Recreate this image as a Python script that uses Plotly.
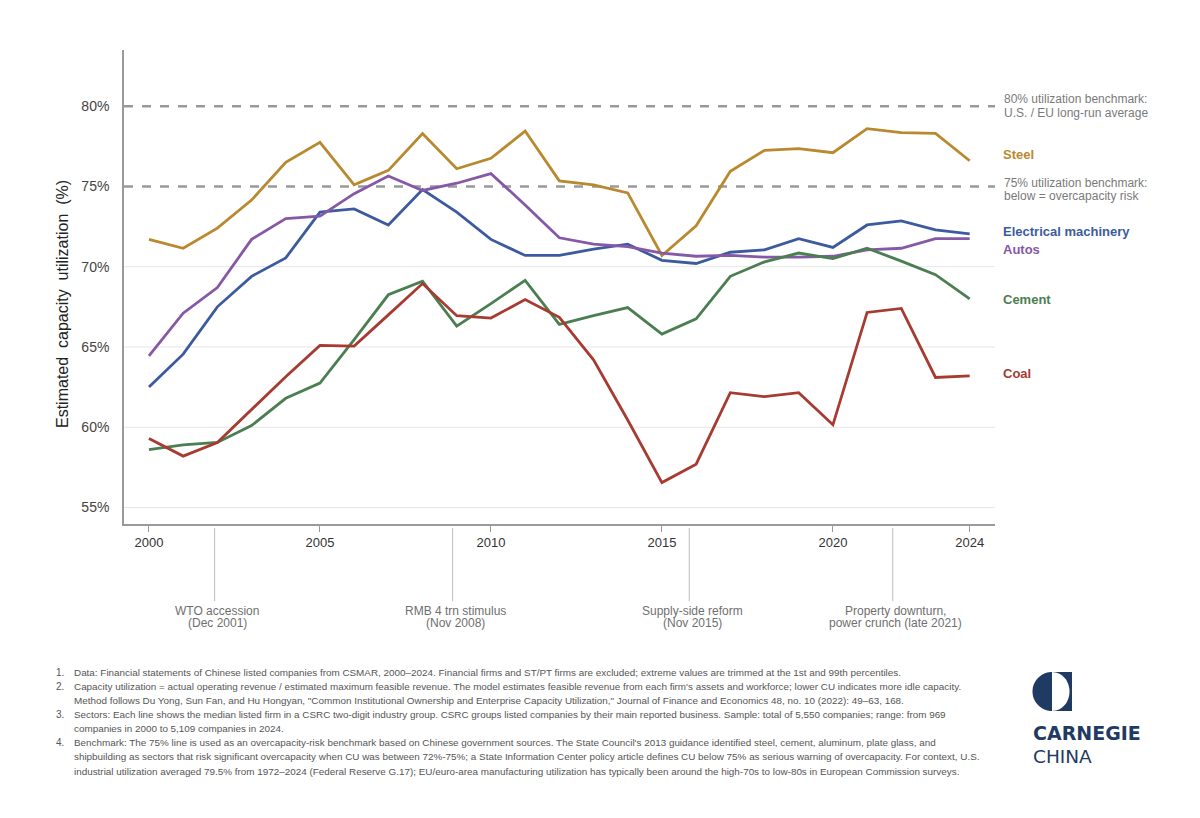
import plotly.graph_objects as go
import numpy as np

# ---------------- data ----------------
years = list(range(2000, 2025))

steel = [71.7, 71.15, 72.4, 74.15, 76.5, 77.75, 75.1, 76.0, 78.3, 76.1, 76.75, 78.45, 75.35, 75.1, 74.6,
         70.7, 72.55, 75.95, 77.25, 77.35, 77.1, 78.6, 78.35, 78.3, 76.6]
elec = [62.5, 64.55, 67.5, 69.4, 70.55, 73.4, 73.6, 72.6, 74.8, 73.4, 71.7, 70.7, 70.7, 71.1, 71.4,
        70.4, 70.2, 70.9, 71.05, 71.75, 71.2, 72.6, 72.85, 72.3, 72.05]
autos = [64.45, 67.1, 68.7, 71.7, 73.0, 73.15, 74.55, 75.65, 74.75, 75.2, 75.8, 73.85, 71.8, 71.4, 71.25,
         70.85, 70.65, 70.7, 70.6, 70.6, 70.65, 71.05, 71.15, 71.75, 71.75]
cement = [58.6, 58.9, 59.05, 60.1, 61.8, 62.75, 65.45, 68.25, 69.1, 66.3, 67.7, 69.15, 66.4, 66.95, 67.45,
          65.8, 66.75, 69.4, 70.3, 70.85, 70.5, 71.15, 70.35, 69.5, 68.0]
coal = [59.3, 58.2, 59.05, 61.1, 63.15, 65.1, 65.05, 67.0, 68.95, 66.95, 66.8, 67.95, 66.85, 64.2, 60.45,
        56.55, 57.7, 62.15, 61.9, 62.15, 60.15, 67.15, 67.4, 63.1, 63.2]

series_names = ["Steel", "Electrical machinery", "Autos", "Cement", "Coal"]
series_vals = [steel, elec, autos, cement, coal]
series_colors = ["#B8892F", "#3C5B9E", "#8659A6", "#4B7E50", "#A63B31"]
label_y_px = [154, 231, 250, 299, 373]

x_tickvals = [2000, 2005, 2010, 2015, 2020, 2024]
y_tickvals = [55, 60, 65, 70, 75, 80]
y_ticktext = ["55%", "60%", "65%", "70%", "75%", "80%"]
grid_vals = [55, 60, 65, 70]

benchmarks = [80, 75]
bench_text = [["80% utilization benchmark:", "U.S. / EU long-run average"],
              ["75% utilization benchmark:", "below = overcapacity risk"]]
bench_text_y = [[99, 112.5], [182.5, 196]]

events_x = [2001.92, 2008.88, 2015.8, 2021.75]
events_text = [["WTO accession", "(Dec 2001)"],
               ["RMB 4 trn stimulus", "(Nov 2008)"],
               ["Supply-side reform", "(Nov 2015)"],
               ["Property downturn,", "power crunch (late 2021)"]]

footnotes = [
    ("1.", ["Data: Financial statements of Chinese listed companies from CSMAR, 2000\u20132024. Financial firms and ST/PT firms are excluded; extreme values are trimmed at the 1st and 99th percentiles."]),
    ("2.", ["Capacity utilization = actual operating revenue / estimated maximum feasible revenue. The model estimates feasible revenue from each firm's assets and workforce; lower CU indicates more idle capacity.",
            "Method follows Du Yong, Sun Fan, and Hu Hongyan, \"Common Institutional Ownership and Enterprise Capacity Utilization,\" Journal of Finance and Economics 48, no. 10 (2022): 49\u201363, 168."]),
    ("3.", ["Sectors: Each line shows the median listed firm in a CSRC two-digit industry group. CSRC groups listed companies by their main reported business. Sample: total of 5,550 companies; range: from 969",
            "companies in 2000 to 5,109 companies in 2024."]),
    ("4.", ["Benchmark: The 75% line is used as an overcapacity-risk benchmark based on Chinese government sources. The State Council's 2013 guidance identified steel, cement, aluminum, plate glass, and",
            "shipbuilding as sectors that risk significant overcapacity when CU was between 72%-75%; a State Information Center policy article defines CU below 75% as serious warning of overcapacity. For context, U.S.",
            "industrial utilization averaged 79.5% from 1972\u20132024 (Federal Reserve G.17); EU/euro-area manufacturing utilization has typically been around the high-70s to low-80s in European Commission surveys."]),
]

# ---------------- layout helpers ----------------
W, H = 1200, 818
L, R, T, B = 124, 995, 50, 524


def px(x):
    return (x - L) / (R - L)


def py(y):
    return (B - y) / (B - T)


FONT = "Liberation Sans, Arial, sans-serif"
NAVY = "#1F3A63"

fig = go.Figure()
for name, vals, col in zip(series_names, series_vals, series_colors):
    fig.add_trace(go.Scatter(x=years, y=vals, mode="lines", name=name,
                             line=dict(color=col, width=2.8), showlegend=False,
                             hoverinfo="x+y+name"))

shapes = []
annotations = []

# light gridlines
for g in grid_vals:
    shapes.append(dict(type="line", xref="paper", x0=0, x1=1, yref="y", y0=g, y1=g,
                       line=dict(color="#e6e6e6", width=1), layer="below"))

# benchmark dashed lines
for b in benchmarks:
    shapes.append(dict(type="line", xref="paper", x0=0, x1=1, yref="y", y0=b, y1=b,
                       line=dict(color="#999999", width=2.5, dash="dash"), layer="below"))
for lines, ys in zip(bench_text, bench_text_y):
    for t, yy in zip(lines, ys):
        annotations.append(dict(text=t, xref="paper", yref="paper", x=px(1002), y=py(yy),
                                xanchor="left", yanchor="middle", showarrow=False,
                                font=dict(family=FONT, size=12, color="#7a7a7a")))

# series labels
for name, col, yy in zip(series_names, series_colors, label_y_px):
    annotations.append(dict(text="<b>" + name + "</b>", xref="paper", yref="paper", x=px(1001), y=py(yy),
                            xanchor="left", yanchor="middle", showarrow=False,
                            font=dict(family=FONT, size=13, color=col)))

# event markers
for ex, lines in zip(events_x, events_text):
    shapes.append(dict(type="line", xref="x", x0=ex, x1=ex, yref="paper", y0=py(528), y1=py(601),
                       line=dict(color="#bdbdbd", width=1)))
    for t, yy in zip(lines, [611, 623]):
        annotations.append(dict(text=t, xref="x", yref="paper", x=ex + 0.08, y=py(yy),
                                xanchor="center", yanchor="middle", showarrow=False,
                                font=dict(family="Liberation Sans Narrow, " + FONT, size=12, color="#6f6f6f")))

# y axis title
annotations.append(dict(text="Estimated\u00a0 capacity\u00a0 utilization\u00a0 (%)", xref="paper", yref="paper",
                        x=px(62), y=py(304), textangle=-90, xanchor="center", yanchor="middle",
                        showarrow=False, font=dict(family=FONT, size=16, color="#222222")))

# footnotes
line_y = 672
for num, lines in footnotes:
    annotations.append(dict(text=num, xref="paper", yref="paper", x=px(54), y=py(line_y),
                            xanchor="left", yanchor="middle", showarrow=False,
                            font=dict(family=FONT, size=10, color="#555555")))
    for t in lines:
        annotations.append(dict(text=t, xref="paper", yref="paper", x=px(72), y=py(line_y),
                                xanchor="left", yanchor="middle", showarrow=False,
                                font=dict(family=FONT, size=9.9, color="#555555")))
        line_y += 14.15

# logo icon
cx, cy, r = 1052.5, 691.5, 19.5
th = np.linspace(np.pi / 2, 3 * np.pi / 2, 40)
pts = [(cx - 0.5 + r * np.cos(t), cy - r * np.sin(t)) for t in th]
path = "M " + " L ".join(f"{px(a):.5f},{py(b):.5f}" for a, b in pts) + " Z"
shapes.append(dict(type="path", xref="paper", yref="paper", path=path,
                   fillcolor=NAVY, line=dict(width=0)))
shapes.append(dict(type="rect", xref="paper", yref="paper", x0=px(cx + 0.5), x1=px(cx + r),
                   y0=py(cy + r), y1=py(cy - r), fillcolor=NAVY, line=dict(width=0)))
th2 = np.linspace(-np.pi / 2, np.pi / 2, 40)
pts2 = [(cx + 0.5 + 16.5 * np.cos(t), cy - (r - 0.3) * np.sin(t)) for t in th2]
path2 = "M " + " L ".join(f"{px(a):.5f},{py(b):.5f}" for a, b in pts2) + " Z"
shapes.append(dict(type="path", xref="paper", yref="paper", path=path2,
                   fillcolor="white", line=dict(width=0)))
annotations.append(dict(text="<b>CARNEGIE</b>", xref="paper", yref="paper", x=px(1031), y=py(733),
                        xanchor="left", yanchor="middle", showarrow=False,
                        font=dict(family="DejaVu Sans", size=19, color=NAVY)))
annotations.append(dict(text="CHINA", xref="paper", yref="paper", x=px(1031), y=py(756),
                        xanchor="left", yanchor="middle", showarrow=False,
                        font=dict(family="DejaVu Sans", size=18.5, color=NAVY)))

fig.update_layout(
    width=W, height=H,
    margin=dict(l=L, r=W - R, t=T, b=H - B, pad=0),
    paper_bgcolor="white", plot_bgcolor="white",
    shapes=shapes, annotations=annotations,
    xaxis=dict(range=[1999.27, 2024.74], tickvals=x_tickvals, ticks="outside", ticklen=6,
               tickcolor="#9a9a9a", tickwidth=1.2, showline=True, linecolor="#9a9a9a", linewidth=1.6,
               showgrid=False, zeroline=False, tickfont=dict(family=FONT, size=13, color="#333333")),
    yaxis=dict(range=[53.97, 83.5], tickvals=y_tickvals, ticktext=y_ticktext, ticks="",
               ticklabelstandoff=10, showline=True, linecolor="#9a9a9a", linewidth=1.6,
               showgrid=False, zeroline=False,
               tickfont=dict(family=FONT, size=14, color="#444444")),
    font=dict(family=FONT),
)

fig.write_html("out.html")
